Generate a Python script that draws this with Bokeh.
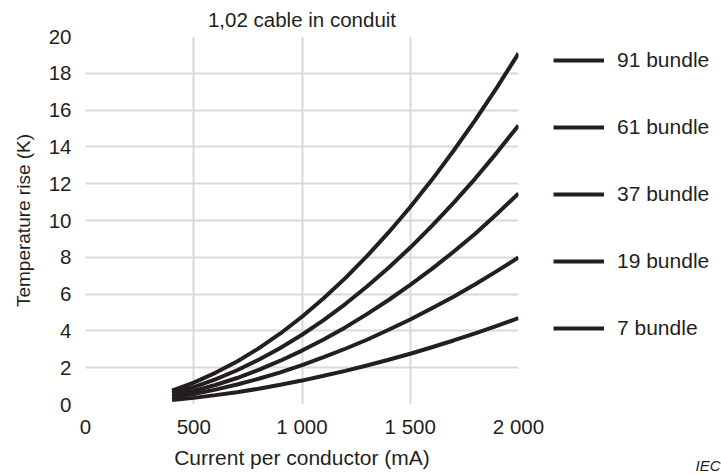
from bokeh.plotting import figure
from bokeh.models import Legend, LegendItem, Title, Range1d, FixedTicker
from bokeh.embed import file_html
from bokeh.resources import INLINE

current = [400, 500, 600, 700, 800, 900, 1000, 1100, 1200, 1300, 1400,
           1500, 1600, 1700, 1800, 1900, 2000]
b91 = [0.76, 1.19, 1.72, 2.34, 3.05, 3.86, 4.77, 5.77, 6.87, 8.06, 9.35,
       10.73, 12.21, 13.79, 15.46, 17.22, 19.08]
b61 = [0.61, 0.95, 1.37, 1.86, 2.43, 3.07, 3.79, 4.59, 5.46, 6.41, 7.43,
       8.53, 9.71, 10.96, 12.28, 13.69, 15.17]
b37 = [0.47, 0.74, 1.06, 1.44, 1.88, 2.38, 2.93, 3.53, 4.19, 4.91, 5.68,
       6.50, 7.37, 8.30, 9.28, 10.35, 11.47]
b19 = [0.38, 0.57, 0.81, 1.09, 1.40, 1.75, 2.14, 2.57, 3.03, 3.52, 4.06,
       4.62, 5.23, 5.86, 6.54, 7.25, 7.99]
b7 = [0.24, 0.36, 0.51, 0.67, 0.86, 1.07, 1.30, 1.56, 1.83, 2.12, 2.43,
      2.76, 3.11, 3.48, 3.87, 4.27, 4.70]

series_names = ["91 bundle", "61 bundle", "37 bundle", "19 bundle", "7 bundle"]
series_values = [b91, b61, b37, b19, b7]

x_ticks = [0, 500, 1000, 1500, 2000]
x_tick_labels = ["0", "500", "1 000", "1 500", "2 000"]
y_ticks = [0, 2, 4, 6, 8, 10, 12, 14, 16, 18, 20]

FONT = "Liberation Sans"
TXT = "#231f20"
LINE = "#231f20"
GRID = "#d9d9d9"

p = figure(frame_width=433, frame_height=368, output_backend="svg",
           toolbar_location=None,
           x_range=Range1d(0, 2000), y_range=Range1d(0, 20),
           min_border_left=85, min_border_right=203, min_border_top=36,
           min_border_bottom=71)
p.outline_line_color = None
p.background_fill_color = "white"
p.border_fill_color = "white"

p.title.text = "1,02 cable in conduit"
p.title.align = "center"
p.title.text_font = FONT
p.title.text_font_size = "20.5px"
p.title.text_font_style = "normal"
p.title.text_color = TXT
p.title.standoff = 11

for ax in (p.xaxis[0], p.yaxis[0]):
    ax.axis_line_color = None
    ax.major_tick_line_color = None
    ax.minor_tick_line_color = None
    ax.major_label_text_font = FONT
    ax.major_label_text_font_size = "20.5px"
    ax.major_label_text_color = TXT
    ax.axis_label_text_font = FONT
    ax.axis_label_text_font_style = "normal"
    ax.axis_label_text_color = TXT

p.xaxis.axis_label_text_font_size = "21px"
p.yaxis.axis_label_text_font_size = "19px"
p.xaxis.ticker = FixedTicker(ticks=x_ticks)
p.xaxis.major_label_overrides = {t: l for t, l in zip(x_ticks, x_tick_labels)}
p.yaxis.ticker = FixedTicker(ticks=y_ticks)
p.xaxis.axis_label = "Current per conductor (mA)"
p.yaxis.axis_label = "Temperature rise (K)"
p.xaxis.major_label_standoff = 4
p.yaxis.major_label_standoff = 8
p.xaxis.axis_label_standoff = 5
p.yaxis.axis_label_standoff = 12

p.xgrid.grid_line_color = GRID
p.ygrid.grid_line_color = GRID
p.xgrid.grid_line_width = 2
p.ygrid.grid_line_width = 2

items = []
for name, vals in zip(series_names, series_values):
    r = p.line(current, vals, line_color=LINE, line_width=4)
    items.append(LegendItem(label=name, renderers=[r]))

legend = Legend(items=items, location=(35, 64))
legend.glyph_width = 51
legend.glyph_height = 20
legend.label_standoff = 13
legend.spacing = 43
legend.padding = 0
legend.margin = 0
legend.border_line_color = None
legend.background_fill_alpha = 0
legend.label_text_font = FONT
legend.label_text_font_size = "21px"
legend.label_text_color = TXT
p.add_layout(legend, "right")

iec = Title(text="IEC", align="right", vertical_align="top", offset=-202,
            standoff=-30, text_font=FONT, text_font_size="15px",
            text_font_style="italic", text_color=TXT)
p.add_layout(iec, "below")

open("out.html", "w").write(file_html(p, INLINE))
